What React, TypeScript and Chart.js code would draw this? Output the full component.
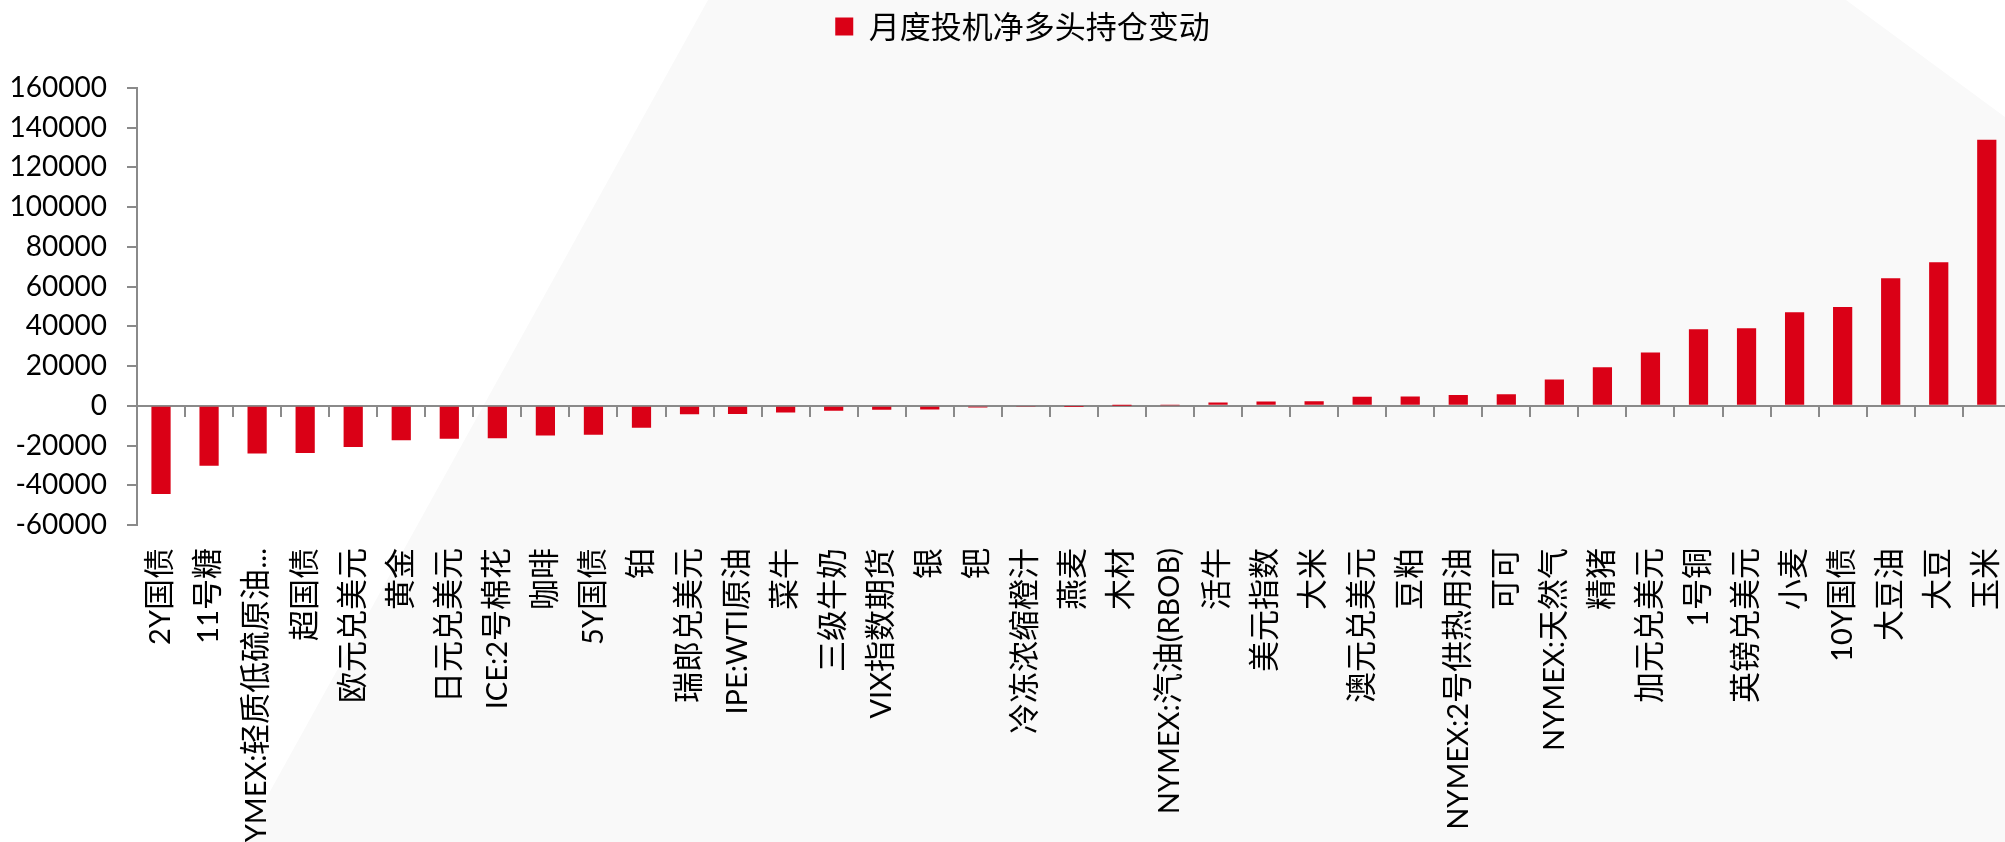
import React, { useEffect, useRef } from "react";
import { Chart, registerables } from "chart.js";

Chart.register(...registerables);

const seriesName = "月度投机净多头持仓变动";

const categories = [
  "2Y国债", "11号糖", "NYMEX:轻质低硫原油...", "超国债", "欧元兑美元", "黄金", "日元兑美元",
  "ICE:2号棉花", "咖啡", "5Y国债", "铂", "瑞郎兑美元", "IPE:WTI原油", "菜牛", "三级牛奶",
  "VIX指数期货", "银", "钯", "冷冻浓缩橙汁", "燕麦", "木材", "NYMEX:汽油(RBOB)", "活牛",
  "美元指数", "大米", "澳元兑美元", "豆粕", "NYMEX:2号供热用油", "可可", "NYMEX:天然气",
  "精猪", "加元兑美元", "1号铜", "英镑兑美元", "小麦", "10Y国债", "大豆油", "大豆", "玉米",
];

const netLongChange = [
  -44400, -30200, -24000, -23700, -20700, -17300, -16600,
  -16300, -14900, -14600, -11100, -4300, -4100, -3400, -2500,
  -2000, -1900, -900, -300, -80, 60, 250, 1700,
  2200, 2300, 4600, 4700, 5400, 5800, 13200,
  19400, 26900, 38500, 39000, 47100, 49700, 64200, 72300, 133900,
];

const yTickValues = [-60000, -40000, -20000, 0, 20000, 40000, 60000, 80000, 100000, 120000, 140000, 160000];

const BAR_RED = "#da0016";
const AXIS_GRAY = "#8a8a8a";
const LABEL_FONT = 'Lato, CJKBig, "Noto Sans CJK SC", sans-serif';

function ensureFontFace() {
  if (document.getElementById("cjk-big-face")) return;
  const style = document.createElement("style");
  style.id = "cjk-big-face";
  style.textContent =
    '@font-face { font-family: "CJKBig"; src: local("Noto Sans CJK SC"), local("Noto Sans CJK SC Regular"), local("NotoSansCJKsc-Regular"); size-adjust: 107%; }';
  document.head.appendChild(style);
}

export default function App() {
  const ref = useRef<HTMLCanvasElement>(null);

  useEffect(() => {
    const canvas = ref.current;
    if (!canvas) return;
    ensureFontFace();

    const legendSpacer = {
      id: "legendSpacer",
      beforeLayout(chart: any) {
        const lg = chart.legend;
        if (lg && !lg.__patched) {
          const orig = lg.fit;
          lg.fit = function () {
            orig.call(this);
            this.height = 88;
          };
          lg.__patched = true;
        }
      },
    };

    const chart = new Chart(canvas, {
      type: "bar",
      data: {
        labels: categories,
        datasets: [
          {
            label: seriesName,
            data: netLongChange,
            backgroundColor: BAR_RED,
            borderWidth: 0,
            categoryPercentage: 1,
            barPercentage: 0.4,
            xAxisID: "x",
            yAxisID: "y",
          },
        ],
      },
      options: {
        responsive: false,
        animation: false,
        devicePixelRatio: 1,
        layout: { padding: { left: 0, right: 0, top: 0, bottom: 0 } },
        plugins: {
          legend: {
            display: true,
            position: "top",
            labels: {
              boxWidth: 18,
              boxHeight: 18,
              padding: 11,
              color: "#000",
              font: { size: 31, family: '"Noto Sans CJK SC", sans-serif' },
            },
          },
          tooltip: { enabled: false },
        },
        scales: {
          x: {
            type: "category",
            position: { y: 0 } as any,
            offset: true,
            grid: {
              offset: true,
              drawOnChartArea: false,
              drawTicks: true,
              tickLength: 10,
              color: AXIS_GRAY,
              lineWidth: 2,
            },
            border: { display: true, color: AXIS_GRAY, width: 2 },
            ticks: { display: false },
            afterFit: (s: any) => {
              s.height = 0;
            },
          },
          x2: {
            type: "category",
            position: "bottom",
            offset: true,
            grid: { display: false, drawTicks: false },
            border: { display: false },
            ticks: {
              autoSkip: false,
              maxRotation: 90,
              minRotation: 90,
              padding: 23,
              color: "#000",
              font: { size: 29, family: LABEL_FONT },
            },
            afterFit: (s: any) => {
              s.height = 317;
            },
          },
          y: {
            type: "linear",
            position: "left",
            min: -60000,
            max: 160000,
            afterBuildTicks: (s: any) => {
              s.ticks = yTickValues.map((v) => ({ value: v }));
            },
            ticks: {
              padding: 20,
              color: "#000",
              font: { size: 28, family: 'Lato, "Noto Sans CJK SC", sans-serif' },
              callback: (v: any) => String(v),
            },
            grid: {
              drawOnChartArea: false,
              drawTicks: true,
              tickLength: 10,
              color: AXIS_GRAY,
              lineWidth: 2,
            },
            border: { display: true, color: AXIS_GRAY, width: 2 },
            afterFit: (s: any) => {
              s.width = 137;
            },
          },
          yRight: {
            type: "linear",
            position: "right",
            display: true,
            grid: { display: false, drawTicks: false },
            border: { display: false },
            ticks: { display: false },
            afterFit: (s: any) => {
              s.width = 33;
            },
          },
        },
      },
      plugins: [legendSpacer],
    });

    let alive = true;
    const fonts: any = (document as any).fonts;
    if (fonts && fonts.load) {
      fonts
        .load('29px CJKBig', "国债")
        .catch(() => null)
        .then(() => {
          if (alive) chart.update();
        });
    }

    return () => {
      alive = false;
      chart.destroy();
    };
  }, []);

  return (
    <div
      style={{
        position: "fixed",
        left: 0,
        top: 0,
        width: 2005,
        height: 842,
        overflow: "hidden",
        background: "#ffffff",
      }}
    >
      <div
        style={{
          position: "absolute",
          left: 0,
          top: 0,
          width: 2005,
          height: 842,
          background: "#f9f9f9",
          clipPath: "polygon(708px 0px, 1846px 0px, 2005px 117px, 2005px 842px, 242px 842px)",
        }}
      />
      <canvas
        ref={ref}
        width={2045}
        height={842}
        style={{ position: "absolute", left: 0, top: 0 }}
      />
    </div>
  );
}
